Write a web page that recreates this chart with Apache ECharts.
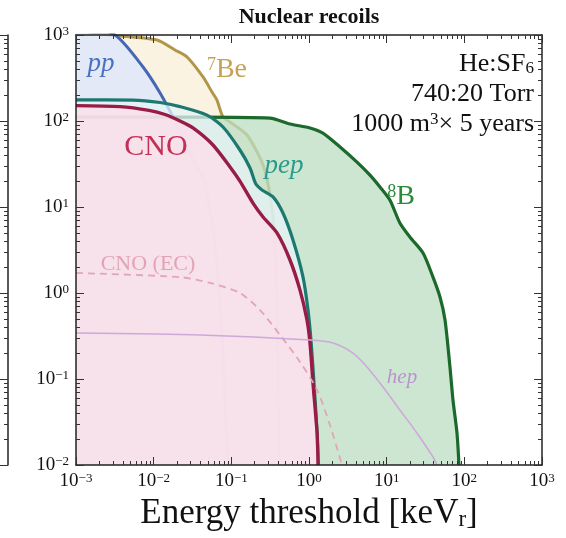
<!DOCTYPE html>
<html>
<head>
<meta charset="utf-8">
<script src="https://cdn.jsdelivr.net/npm/echarts@6/dist/echarts.min.js"></script>
<style>
  html, body { margin: 0; padding: 0; background: #ffffff; }
  #chart { width: 566px; height: 538px; }
</style>
</head>
<body>
<div id="chart"></div>
<script>
// Solar-neutrino nuclear recoils: events above energy threshold [keV_r]
// Each curve is a list of [threshold (keV_r), events] pairs.
const b8 = [[0.001,111],[0.0396,111],[0.315,108],[0.569,92.3],[1.03,83],[1.51,72.4],[2.51,49.9],[4.15,33.3],[6.10,23.5],[8.20,17.1],[11.0,12.05],[14.8,6.52],[19.9,4.48],[29.4,2.92],[39.5,1.53],[48.6,0.898],[56.4,0.485],[65.3,0.138],[71.4,0.057],[80.4,0.0236],[85.3,0.01]];
const be7 = [[0.001,1150],[0.00274,1000],[0.0110,875],[0.0188,669],[0.0269,555],[0.0432,325],[0.0564,217],[0.0653,175],[0.0781,111],[0.0962,97.3],[0.159,68.7],[0.256,30.8],[0.315,13.8],[0.354,5.41],[0.387,0.83],[0.399,0.097],[0.411,0.01]];
const pp = [[0.001,1400],[0.00318,1000],[0.0073,425],[0.0121,212],[0.0178,111],[0.0321,35.2],[0.0444,20.6],[0.058,5.41],[0.0714,0.83],[0.0805,0.105],[0.0906,0.01]];
const pep = [[0.001,176],[0.00542,175],[0.0121,164],[0.0218,147],[0.0486,117],[0.0781,85.1],[0.129,46.0],[0.174,28.4],[0.207,18.5],[0.248,15.8],[0.344,13.1],[0.462,8.51],[0.622,4.13],[0.838,1.53],[0.971,0.634],[1.06,0.284],[1.16,0.0898],[1.27,0.0236],[1.31,0.01]];
const cno = [[0.001,151],[0.00369,147],[0.00871,133],[0.014,119],[0.0218,100],[0.0321,83],[0.058,52.6],[0.0962,29.2],[0.129,20.0],[0.190,11.1],[0.256,7.65],[0.387,4.99],[0.569,2.42],[0.766,1.08],[0.942,0.485],[1.03,0.262],[1.125,0.0898],[1.27,0.0236],[1.31,0.01]];
const cnoEC = [[0.001,1.71],[0.0218,1.53],[0.0531,1.31],[0.129,1.0],[0.234,0.634],[0.423,0.325],[0.766,0.158],[1.27,0.0745],[1.86,0.0292],[2.66,0.01]];
const hep = [[0.001,0.343],[0.0396,0.325],[1.03,0.284],[2.04,0.262],[3.68,0.200],[5.58,0.138],[8.97,0.0807],[14.8,0.0437],[24.5,0.0236],[39.5,0.0124],[44.5,0.01]];

const xDecades = [0.001, 0.01, 0.1, 1, 10, 100, 1000];
const yDecades = [0.01, 0.1, 1, 10, 100, 1000];

function minorTicks(lo, hi) {
  const out = [];
  for (let e = lo; e < hi; e++) {
    for (let k = 2; k < 10; k++) out.push(+(k * Math.pow(10, e)).toPrecision(3));
  }
  return out;
}
const xMinors = minorTicks(-3, 3);
const yMinors = minorTicks(-2, 3);

const SERIF = '"Liberation Serif", "DejaVu Serif", serif';

function powLabel(v) {
  const e = Math.round(Math.log10(v));
  return '{b|10}{s|' + (e < 0 ? '\u2212' + (-e) : e) + '}';
}
const powRich = {
  b: { fontFamily: SERIF, fontSize: 19, color: '#111', lineHeight: 19, verticalAlign: 'bottom' },
  s: { fontFamily: SERIF, fontSize: 13, color: '#111', lineHeight: 13, verticalAlign: 'top', padding: [0, 0, 11, 0] }
};

function frameLine() {
  return { show: true, onZero: false, lineStyle: { color: '#222', width: 1.5 } };
}
function tickStyle(vals, len, inside) {
  return { show: true, inside, length: len, customValues: vals, lineStyle: { color: '#333', width: 1 } };
}

function xAxisDef(position, vals, len, withLine, withLabels) {
  return {
    type: 'log', logBase: 10, min: 0.001, max: 1000, gridIndex: 0, position, z: 50,
    splitLine: { show: false },
    axisLine: withLine ? frameLine() : { show: false, onZero: false },
    axisTick: tickStyle(vals, len, true),
    axisLabel: withLabels ? { show: true, customValues: xDecades, formatter: powLabel, rich: powRich, margin: 7 } : { show: false }
  };
}
function yAxisDef(position, vals, len, withLine, withLabels, offset, inside) {
  return {
    type: 'log', logBase: 10, min: 0.01, max: 1000, gridIndex: 0, position, offset, z: 50,
    splitLine: { show: false },
    axisLine: withLine ? frameLine() : { show: false, onZero: false },
    axisTick: tickStyle(vals, len, inside),
    axisLabel: withLabels ? { show: true, customValues: yDecades, formatter: powLabel, rich: powRich, margin: 7 } : { show: false }
  };
}

// later curves sit above earlier ones: their fill veils the lines beneath
function curve(name, data, color, width, fill, z) {
  const s = {
    type: 'line', name, data, xAxisIndex: 0, yAxisIndex: 0, z,
    symbol: 'none', smooth: 0.25, silent: true, clip: true,
    lineStyle: { color, width }
  };
  if (fill) s.areaStyle = { color: fill, opacity: 0.75, origin: 'start' };
  return s;
}

// label with a leading superscript (isotope mass number)
function isotopeLabel(x, y, mass, sym, color) {
  return { type: 'text', z: 100, x, y, style: {
    text: '{s|' + mass + '}{b|' + sym + '}', textAlign: 'center', textVerticalAlign: 'middle',
    rich: {
      b: { fontFamily: SERIF, fontSize: 28, fill: color, lineHeight: 28, verticalAlign: 'bottom' },
      s: { fontFamily: SERIF, fontSize: 18, fill: color, lineHeight: 18, verticalAlign: 'top', padding: [0, 0, 12, 0] }
    } } };
}

const chart = echarts.init(document.getElementById('chart'), null, { renderer: 'canvas' });

chart.setOption({
  animation: false,
  backgroundColor: '#ffffff',
  grid: { left: 76, right: 24, top: 35, bottom: 73, outerBoundsMode: 'none' },
  xAxis: [
    xAxisDef('bottom', xDecades, 8, true, true),
    xAxisDef('bottom', xMinors, 4, false, false),
    xAxisDef('top', xDecades, 8, true, false),
    xAxisDef('top', xMinors, 4, false, false)
  ],
  yAxis: [
    yAxisDef('left', yDecades, 8, true, true, 0, true),
    yAxisDef('left', yMinors, 4, false, false, 0, true),
    yAxisDef('right', yDecades, 8, true, false, 0, true),
    yAxisDef('right', yMinors, 4, false, false, 0, true),
    // edge of the neighbouring panel on the left
    yAxisDef('left', yDecades, 8, true, false, 68, false),
    yAxisDef('left', yMinors, 4, false, false, 68, false)
  ],
  series: [
    curve('7Be', be7, '#b1964a', 3.0, '#f8efd8', 2),
    curve('pp', pp, '#4668b4', 3.0, '#dbe6fc', 3),
    curve('8B', b8, '#1c6a2b', 3.2, '#bcdec3', 4),
    curve('pep', pep, '#1d786f', 3.2, '#e4f3f7', 5),
    curve('CNO', cno, '#971d44', 3.4, '#ffdce9', 6),
    Object.assign(curve('CNO (EC)', cnoEC, '#e2a6b6', 1.8, null, 7), { lineStyle: { color: '#e2a6b6', width: 1.8, type: [7, 5] } }),
    curve('hep', hep, '#cda9d9', 1.6, null, 7)
  ],
  graphic: { elements: [
    { type: 'text', z: 100, x: 309, y: 17, style: { text: 'Nuclear recoils', font: 'bold 22px ' + SERIF, fill: '#111', textAlign: 'center', textVerticalAlign: 'middle' } },
    { type: 'text', z: 100, x: 309, y: 514, style: {
      text: '{b|Energy threshold [keV}{u|r}{b|]}', textAlign: 'center', textVerticalAlign: 'middle',
      rich: {
        b: { fontFamily: SERIF, fontSize: 35, fill: '#111', lineHeight: 35, verticalAlign: 'top' },
        u: { fontFamily: SERIF, fontSize: 23, fill: '#111', lineHeight: 23, verticalAlign: 'bottom', padding: [14, 0, 0, 0] }
      } } },
    { type: 'text', z: 100, x: 534, y: 64, style: {
      text: '{b|He:SF}{u|6}', textAlign: 'right', textVerticalAlign: 'middle',
      rich: {
        b: { fontFamily: SERIF, fontSize: 26, fill: '#111', lineHeight: 26, verticalAlign: 'top' },
        u: { fontFamily: SERIF, fontSize: 17, fill: '#111', lineHeight: 17, verticalAlign: 'bottom', padding: [10, 0, 0, 0] }
      } } },
    { type: 'text', z: 100, x: 534, y: 94, style: { text: '740:20 Torr', font: '26px ' + SERIF, fill: '#111', textAlign: 'right', textVerticalAlign: 'middle' } },
    { type: 'text', z: 100, x: 534, y: 124, style: {
      text: '{b|1000 m}{s|3}{b|\u00d7 5 years}', textAlign: 'right', textVerticalAlign: 'middle',
      rich: {
        b: { fontFamily: SERIF, fontSize: 26, fill: '#111', lineHeight: 26, verticalAlign: 'bottom' },
        s: { fontFamily: SERIF, fontSize: 17, fill: '#111', lineHeight: 17, verticalAlign: 'top', padding: [0, 0, 13, 0] }
      } } },
    { type: 'text', z: 100, x: 101, y: 64, style: { text: 'pp', font: 'italic 27px ' + SERIF, fill: '#4a72c2', textAlign: 'center', textVerticalAlign: 'middle' } },
    isotopeLabel(227, 70, '7', 'Be', '#c6a257'),
    { type: 'text', z: 100, x: 156, y: 147, style: { text: 'CNO', font: '30px ' + SERIF, fill: '#c42f55', textAlign: 'center', textVerticalAlign: 'middle' } },
    { type: 'text', z: 100, x: 284, y: 166, style: { text: 'pep', font: 'italic 27px ' + SERIF, fill: '#2a9a8b', textAlign: 'center', textVerticalAlign: 'middle' } },
    isotopeLabel(401, 197, '8', 'B', '#2a8a3a'),
    { type: 'text', z: 100, x: 148, y: 264, style: { text: 'CNO (EC)', font: '22px ' + SERIF, fill: '#e3a3b5', textAlign: 'center', textVerticalAlign: 'middle' } },
    { type: 'text', z: 100, x: 402, y: 377, style: { text: 'hep', font: 'italic 21px ' + SERIF, fill: '#b993cc', textAlign: 'center', textVerticalAlign: 'middle' } }
  ] }
});
</script>
</body>
</html>
